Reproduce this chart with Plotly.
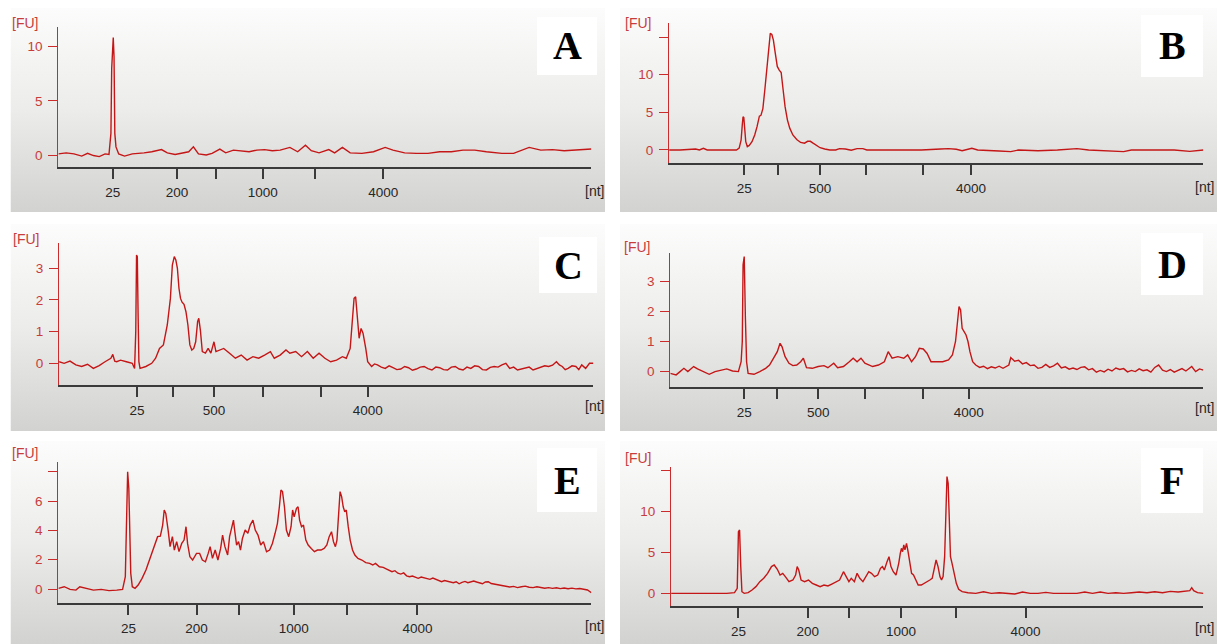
import base64
import plotly.graph_objects as go

W, H = 1219, 644

# ---------------- electropherogram data ----------------
# migration time (s) and fluorescence (FU) for each sample

time_a = [20.0, 20.8, 21.6, 22.4, 23.0, 23.6, 24.2, 24.8, 25.2, 25.4, 25.48, 25.56, 25.64, 25.72, 25.8, 25.92,
          26.2, 26.8, 27.6, 28.8, 29.6, 30.6, 31.2, 32.0, 32.8, 33.4, 33.88, 34.4, 35.2, 35.8, 36.6, 37.2,
          38.0, 38.8, 39.6, 40.4, 41.2, 42.0, 42.8, 43.8, 44.6, 45.4, 46.0, 46.8, 47.8, 48.4, 49.2, 50.0,
          51.2, 52.4, 53.6, 54.4, 55.6, 56.8, 58.0, 59.2, 60.4, 61.6, 62.8, 64.0, 65.6, 66.8, 68.4, 69.6,
          70.8, 72.0, 73.2, 74.8]
fu_a = [0.1, 0.2, 0.1, -0.1, 0.15, -0.05, -0.15, 0.1, 0.05, 2.0, 8.0, 9.2, 10.85, 9.1, 2.0, 0.75,
        0.1, -0.1, 0.1, 0.2, 0.3, 0.5, 0.2, 0.05, 0.2, 0.3, 0.75, 0.1, 0.0, 0.15, 0.55, 0.2,
        0.45, 0.4, 0.3, 0.45, 0.5, 0.4, 0.45, 0.7, 0.3, 0.9, 0.4, 0.2, 0.5, 0.2, 0.7, 0.2,
        0.15, 0.3, 0.7, 0.45, 0.2, 0.15, 0.15, 0.3, 0.3, 0.45, 0.45, 0.3, 0.15, 0.15, 0.7, 0.45,
        0.5, 0.4, 0.45, 0.55]

time_b = [20.08, 21.2, 22.8, 23.2, 23.6, 24.0, 25.2, 26.4, 27.0, 27.28, 27.48, 27.6, 27.68, 27.76, 27.84, 27.96,
          28.12, 28.32, 28.6, 28.88, 29.12, 29.36, 29.52, 29.72, 29.92, 30.12, 30.32, 30.48, 30.64, 30.8,
          31.0, 31.2, 31.4, 31.6, 31.8, 32.0, 32.24, 32.48, 32.8, 33.2, 33.6, 34.0, 34.32, 34.6, 34.88,
          35.2, 35.6, 36.08, 36.6, 37.2, 37.6, 38.2, 38.8, 39.4, 40.0, 40.4, 42.0, 44.0, 46.0, 48.0,
          48.8, 49.6, 50.2, 51.2, 51.8, 54.0, 55.2, 56.0, 58.0, 60.0, 62.0, 63.2, 64.8, 66.8, 67.6,
          70.0, 72.0, 73.6, 75.0]
fu_b = [0, 0, 0.13, 0, 0.22, 0, 0, -0.04, 0, 0.25, 1.3, 3.3, 4.4, 4.3, 2.9, 1.1,
        0.45, 0.6, 1.1, 2.0, 3.1, 4.5, 4.6, 5.5, 8.0, 11.1, 14.2, 15.5, 15.35, 14.6,
        12.8, 11.1, 10.6, 10.3, 8.0, 5.75, 4.0, 2.9, 2.0, 1.4, 1.0, 0.9, 1.15, 1.15, 0.9,
        0.6, 0.3, 0.13, 0, 0, 0.18, 0.13, -0.04, 0.18, 0.18, 0, 0, -0.1, 0, 0.13,
        0.18, 0.1, -0.1, 0.22, 0, -0.13, -0.22, 0, -0.1, 0, 0.18, 0, -0.13, -0.22, 0,
        0, 0, -0.18, 0]

time_c = [20.08, 20.6, 21.2, 21.8, 22.4, 23.0, 23.6, 24.2, 24.8, 25.4,
          25.6, 25.8, 26.0, 26.4, 27.0, 27.6, 27.84, 27.96, 28.04, 28.12,
          28.2, 28.28, 28.4, 29.0, 29.6, 30.0, 30.4, 30.8, 31.2, 31.52,
          31.72, 31.92, 32.08, 32.24, 32.4, 32.56, 32.72, 32.92, 33.12, 33.32,
          33.52, 33.72, 33.92, 34.12, 34.32, 34.44, 34.6, 34.8, 35.12, 35.4,
          35.68, 36.0, 36.2, 36.6, 37.0, 37.6, 38.2, 38.8, 39.4, 40.0,
          40.6, 41.2, 41.8, 42.2, 42.8, 43.4, 43.8, 44.4, 45.0, 45.6,
          46.2, 46.8, 47.4, 48.0, 48.6, 49.2, 49.6, 50.0, 50.2, 50.4,
          50.56, 50.72, 50.92, 51.12, 51.32, 51.6,
          51.8, 52.2, 52.5, 52.8, 53.2, 53.6, 54.0, 54.4, 54.8, 55.2,
          55.6, 56.0, 56.4, 56.8, 57.2, 57.6, 58.0, 58.4, 58.8, 59.2,
          59.6, 60.0, 60.4, 60.8, 61.2, 61.6, 62.0, 62.4, 62.8, 63.2,
          63.6, 64.0, 64.4, 64.8, 65.2, 65.6, 66.0, 66.4, 66.8, 67.2,
          67.6, 68.0, 68.4, 68.8, 69.2, 69.6, 70.0, 70.4, 70.8, 71.2,
          71.5, 71.8, 72.1, 72.4, 72.8, 73.2, 73.5, 73.8, 74.2, 74.6,
          75.0]
fu_c = [0.05, 0.0, 0.07, -0.05, -0.1, -0.03, -0.16, -0.07, 0.05, 0.16,
        0.28, 0.07, 0.05, 0.1, 0.05, 0.0, -0.16, 1.0, 3.42, 3.37,
        1.53, 0.05, -0.16, -0.1, 0.0, 0.16, 0.47, 0.58, 1.21, 2.05,
        3.1, 3.37, 3.26, 3.0, 2.37, 2.05, 1.93, 1.86, 1.63, 1.21,
        0.58, 0.42, 0.47, 0.68, 1.32, 1.42, 1.05, 0.37, 0.32, 0.47,
        0.32, 0.68, 0.37, 0.42, 0.47, 0.32, 0.16, 0.26, 0.1, 0.21,
        0.16, 0.26, 0.37, 0.16, 0.26, 0.42, 0.32, 0.37, 0.21, 0.37,
        0.16, 0.32, 0.16, 0.05, 0.1, 0.21, 0.16, 0.47, 1.32, 2.05,
        2.1, 1.53, 0.79, 1.1, 0.95, 0.47,
        0.05, -0.1, -0.02, -0.05, -0.12, -0.16, -0.08, -0.14, -0.2, -0.18,
        -0.1, -0.14, -0.22, -0.18, -0.12, -0.1, -0.17, -0.21, -0.12, -0.14,
        -0.2, -0.21, -0.12, -0.1, -0.18, -0.21, -0.12, -0.16, -0.08, -0.1,
        -0.2, -0.21, -0.13, -0.1, -0.12, -0.05, 0.0, -0.16, -0.12, -0.21,
        -0.18, -0.16, -0.12, -0.21, -0.17, -0.14, -0.08, -0.1, -0.06, 0.05,
        -0.05, -0.1, -0.2, -0.16, -0.08, -0.1, -0.2, -0.05, -0.16, 0.0,
        0.0]

time_d = [20.2, 20.8, 21.2, 21.6, 22.0, 22.6, 23.0, 23.6, 24.2, 24.8,
          25.4, 26.0, 26.6, 27.2, 27.48, 27.6, 27.68, 27.8, 27.92, 28.04,
          28.2, 28.8, 29.4, 30.0, 30.4, 30.8, 31.2, 31.48, 31.68, 32.0,
          32.4, 32.8, 33.2, 33.6, 33.88, 34.2, 34.8, 35.4, 36.0, 36.4,
          37.0, 37.4, 38.0, 38.6, 39.0, 39.4, 39.8, 40.2, 40.6, 41.0,
          41.6, 42.2, 42.6, 43.0, 43.6, 44.2, 44.6, 45.0, 45.4, 45.8,
          46.2, 46.6, 47.0, 47.6, 48.2, 48.8, 49.2, 49.52, 49.72, 49.88,
          50.04, 50.2, 50.4, 50.6, 50.8, 51.0, 51.28, 51.6,
          52.0, 52.4, 52.8, 53.2, 53.6, 54.0, 54.4, 54.8, 55.0, 55.2,
          55.4, 55.6, 56.0, 56.4, 56.8, 57.2, 57.6, 58.0, 58.4, 58.8,
          59.2, 59.6, 60.0, 60.4, 60.8, 61.2, 61.6, 62.0, 62.4, 62.8,
          63.2, 63.6, 64.0, 64.4, 64.8, 65.2, 65.6, 66.0, 66.4, 66.8,
          67.2, 67.6, 68.0, 68.4, 68.8, 69.2, 69.6, 70.0, 70.4, 70.8,
          71.2, 71.6, 72.0, 72.4, 72.8, 73.2, 73.6, 73.8, 74.2, 74.6,
          75.0]
fu_d = [-0.08, -0.13, -0.02, 0.09, -0.02, 0.15, 0.07, -0.02, -0.11, -0.02,
        0.03, 0.07, 0.0, -0.02, 0.31, 0.99, 3.56, 3.84, 1.77, 0.31,
        -0.08, -0.11, -0.02, 0.09, 0.2, 0.43, 0.65, 0.93, 0.82, 0.48,
        0.26, 0.18, 0.2, 0.31, 0.43, 0.11, 0.09, 0.15, 0.18, 0.11,
        0.26, 0.11, 0.15, 0.31, 0.43, 0.31, 0.43, 0.26, 0.2, 0.15,
        0.2, 0.31, 0.65, 0.43, 0.48, 0.43, 0.54, 0.31, 0.48, 0.76,
        0.74, 0.59, 0.31, 0.31, 0.31, 0.37, 0.54, 0.99, 1.71, 2.16,
        2.05, 1.43, 1.32, 1.21, 0.99, 0.65, 0.31, 0.2,
        0.12, 0.16, 0.08, 0.14, 0.1, 0.16, 0.09, 0.15, 0.2, 0.45,
        0.4, 0.33, 0.36, 0.24, 0.28, 0.18, 0.2, 0.09, 0.12, 0.22,
        0.12, 0.17, 0.26, 0.1, 0.14, 0.06, 0.1, 0.05, 0.12, 0.14,
        0.04, 0.08, -0.04, 0.02, -0.03, 0.06, 0.0, 0.1, 0.05, 0.08,
        -0.03, 0.02, -0.02, 0.07, 0.01, 0.04, -0.04, 0.12, 0.2, 0.03,
        -0.02, 0.05, -0.04, 0.02, 0.08, 0.0, 0.1, 0.15, -0.02, 0.07,
        0.03]

time_e = [20.0, 20.6, 21.2, 21.8, 22.2, 22.8, 23.6, 24.4, 25.2, 26.0,
          26.6, 26.88, 27.0, 27.12, 27.24, 27.32, 27.44, 27.6, 27.88, 28.2,
          28.6, 29.0, 29.4, 29.8, 30.2, 30.48, 30.72, 30.88, 31.04, 31.28,
          31.48, 31.72, 31.92, 32.16, 32.4, 32.68, 32.92, 33.12, 33.28, 33.52,
          33.8, 34.2, 34.52, 34.8, 35.12, 35.4, 35.6, 35.84, 36.12, 36.4,
          36.68, 36.88, 37.12, 37.4, 37.6, 37.8, 38.0, 38.12, 38.32, 38.52,
          38.72, 38.92, 39.2, 39.48, 39.72, 40.0, 40.24, 40.52, 40.8, 41.08,
          41.4, 41.72, 42.0, 42.28, 42.52, 42.72, 42.88, 43.04, 43.24, 43.44,
          43.68, 43.92, 44.08, 44.24, 44.48, 44.64, 44.8, 45.0, 45.2, 45.44,
          45.68, 46.0, 46.32, 46.64, 47.0, 47.32, 47.6, 47.84, 48.08, 48.28,
          48.48, 48.64, 48.8, 48.96, 49.12, 49.28, 49.44, 49.6, 49.8, 50.0,
          50.24, 50.48, 50.8, 51.2, 51.6, 52.0, 52.32, 52.6,
          53.0, 53.4, 53.7, 54.0, 54.3, 54.6, 54.9, 55.2, 55.5, 55.8,
          56.1, 56.4, 56.7, 57.0, 57.3, 57.6, 57.9, 58.2, 58.5, 58.8,
          59.1, 59.4, 59.7, 60.0, 60.3, 60.6, 60.9, 61.2, 61.5, 61.8,
          62.1, 62.4, 62.7, 63.0, 63.3, 63.6, 63.9, 64.2, 64.5, 64.8,
          65.1, 65.4, 65.7, 66.0, 66.4, 66.8, 67.2, 67.6, 68.0, 68.4,
          68.8, 69.2, 69.6, 70.0, 70.4, 70.8, 71.2, 71.6, 72.0, 72.4,
          72.8, 73.2, 73.6, 74.0, 74.4, 74.8]
fu_e = [0.05, 0.16, -0.02, -0.07, 0.16, 0.05, -0.07, -0.02, -0.11, -0.07,
        -0.02, 0.84, 4.93, 8.0, 6.86, 4.02, 1.07, 0.16, 0.05, 0.27,
        0.73, 1.3, 2.09, 2.89, 3.57, 3.61, 4.36, 5.39, 5.16, 4.02,
        2.89, 3.57, 2.66, 3.23, 2.55, 3.11, 3.34, 4.25, 3.11, 2.2,
        1.98, 2.43, 2.43, 1.98, 1.86, 2.43, 2.89, 2.09, 2.66, 1.98,
        2.77, 3.68, 2.89, 2.32, 3.57, 4.14, 4.7, 4.02, 3.0, 3.23,
        2.66, 3.45, 4.02, 3.8, 4.36, 4.7, 4.02, 3.68, 3.0, 3.23,
        2.55, 2.66, 3.11, 3.8, 4.48, 5.61, 6.75, 6.64, 5.61, 4.02,
        3.57, 4.25, 5.39, 4.93, 5.5, 5.61, 4.7, 4.25, 4.36, 3.34,
        3.0, 2.77, 2.55, 2.66, 2.66, 2.77, 3.0, 3.57, 3.91, 3.23,
        2.89, 3.34, 5.39, 6.64, 6.3, 5.61, 5.27, 5.39, 4.25, 3.34,
        2.66, 2.32, 2.09, 1.98, 1.8, 1.75, 1.64, 1.75,
        1.52, 1.48, 1.38, 1.3, 1.18, 1.25, 1.08, 1.02, 1.1, 0.9,
        0.84, 0.89, 0.8, 0.73, 0.82, 0.78, 0.7, 0.66, 0.75, 0.68,
        0.6, 0.5, 0.58, 0.52, 0.45, 0.43, 0.5, 0.36, 0.45, 0.52,
        0.43, 0.47, 0.55, 0.48, 0.42, 0.36, 0.48, 0.5, 0.38, 0.34,
        0.3, 0.25, 0.22, 0.18, 0.14, 0.18, 0.1, 0.16, 0.2, 0.12,
        0.1, 0.16, 0.12, 0.06, 0.1, 0.05, 0.09, 0.03, 0.07, 0.02,
        0.06, 0.01, 0.04, -0.02, -0.06, -0.25]

time_f = [20.28, 21.2, 22.8, 24.4, 26.0, 26.8, 27.08, 27.2, 27.32, 27.44,
          27.56, 27.8, 28.2, 28.6, 29.0, 29.4, 29.8, 30.2, 30.6, 30.88,
          31.2, 31.48, 31.76, 32.08, 32.4, 32.8, 33.08, 33.24, 33.4, 33.64,
          34.0, 34.4, 34.8, 35.2, 35.6, 36.0, 36.4, 36.8, 37.2, 37.6,
          38.0, 38.28, 38.56, 38.8, 39.12, 39.4, 39.68, 40.0, 40.28, 40.6,
          40.88, 41.2, 41.52, 41.8, 42.0, 42.2, 42.48, 42.68, 42.88, 43.12,
          43.4, 43.68, 43.84, 43.96, 44.08, 44.2, 44.32, 44.48, 44.64, 44.8,
          45.0, 45.2, 45.44, 45.68, 46.0, 46.32, 46.6, 46.88, 47.12, 47.32,
          47.52, 47.72, 47.92, 48.08, 48.24, 48.4, 48.52, 48.64, 48.76, 48.88,
          49.0, 49.16, 49.36, 49.6, 49.84, 50.2, 50.8, 51.6, 52.4, 53.2,
          54.0, 54.8, 55.6, 56.4, 57.2, 58.0, 58.8, 59.6, 60.4, 61.2,
          62.0, 62.8, 63.6, 64.4, 65.2, 66.0, 66.8, 67.6, 68.4, 69.2,
          70.0, 70.8, 71.6, 72.4, 73.2, 73.6, 73.8, 74.0, 74.4, 75.0]
fu_f = [0.0, 0.0, -0.08, 0.0, 0.0, 0.08, 0.61, 7.55, 7.76, 3.27,
        0.2, 0.0, 0.08, 0.41, 0.82, 1.43, 1.84, 2.45, 3.27, 3.47,
        2.94, 2.24, 2.45, 1.96, 1.43, 1.63, 2.24, 3.27, 2.86, 1.63,
        1.43, 1.63, 1.22, 1.02, 0.82, 1.02, 0.9, 1.14, 1.43, 1.63,
        2.65, 2.04, 1.43, 1.84, 1.43, 2.45, 1.84, 1.43, 2.04, 2.65,
        2.45, 2.04, 2.24, 3.06, 3.27, 2.86, 3.88, 4.49, 3.27, 2.65,
        2.24, 3.67, 4.9, 5.51, 5.1, 5.92, 5.31, 6.12, 5.1, 3.88,
        2.45, 2.24, 1.63, 1.02, 1.02, 1.22, 1.43, 1.63, 1.84, 2.86,
        4.08, 3.27, 2.04, 1.63, 2.04, 4.49, 9.39, 14.29, 13.47, 8.16,
        4.49, 3.67, 2.45, 1.22, 0.49, 0.2, 0.08, 0.0, 0.2, 0.0,
        0.08, 0.0, -0.08, 0.16, 0.0, 0.0, 0.12, 0.0, 0.0, 0.08,
        0.0, 0.16, 0.0, 0.16, 0.0, 0.08, 0.0, 0.08, 0.16, 0.08,
        0.2, 0.08, 0.24, 0.16, 0.24, 0.33, 0.69, 0.33, 0.08, 0.0]

# ladder peaks (migration time, s) and their size labels (nt)
ladder_a = [25.6, 32.2, 36.2, 41.0, 46.4, 53.4]
ladder_b = [27.8, 31.28, 35.6, 40.28, 46.2, 51.12]
ladder_c = [28.08, 31.8, 36.0, 41.0, 47.0, 51.8]
ladder_d = [27.8, 31.2, 35.4, 40.2, 46.2, 50.88]
ladder_e = [27.2, 34.2, 38.6, 44.2, 49.72, 56.92]
ladder_f = [27.2, 34.32, 38.6, 43.92, 49.6, 56.72]
ladder_text_1 = ["25", "200", "", "1000", "", "4000"]
ladder_text_2 = ["25", "", "500", "", "", "4000"]

# fluorescence axis ticks
fu_ticks_a = [0, 5, 10]
fu_ticks_b = [0, 5, 10, 15]
fu_ticks_c = [0, 1, 2, 3]
fu_ticks_d = [0, 1, 2, 3, 4]
fu_ticks_e = [0, 2, 4, 6, 8]
fu_ticks_f = [0, 5, 10, 15]
fu_text_a = ["0", "5", "10"]
fu_text_b = ["0", "5", "10", ""]
fu_text_c = ["0", "1", "2", "3"]
fu_text_d = ["0", "1", "2", "3", ""]
fu_text_e = ["0", "2", "4", "6", ""]
fu_text_f = ["0", "5", "10", ""]

samples = [
    ("A", time_a, fu_a, ladder_a, ladder_text_1, fu_ticks_a, fu_text_a),
    ("B", time_b, fu_b, ladder_b, ladder_text_2, fu_ticks_b, fu_text_b),
    ("C", time_c, fu_c, ladder_c, ladder_text_2, fu_ticks_c, fu_text_c),
    ("D", time_d, fu_d, ladder_d, ladder_text_2, fu_ticks_d, fu_text_d),
    ("E", time_e, fu_e, ladder_e, ladder_text_1, fu_ticks_e, fu_text_e),
    ("F", time_f, fu_f, ladder_f, ladder_text_1, fu_ticks_f, fu_text_f),
]

# ---------------- page geometry (pixels) ----------------
GEOM = {
    "A": dict(plot=(58.4, 26.7, 591.4, 166.7), xr=(20.0, 74.8), yr=(-1.08, 11.85),
              card=(10.5, 8, 605, 212), box=(537, 17, 597, 75), fu=(25.5, 23.3), nt=(606, 191.0)),
    "B": dict(plot=(669.1, 23.3, 1203.4, 163.3), xr=(20.08, 75.0), yr=(-1.77, 16.83),
              card=(620, 8, 1217, 212), box=(1141, 15, 1203, 77), fu=(637.5, 23.3), nt=(1216, 187.0)),
    "C": dict(plot=(59.1, 243.3, 593.4, 385.0), xr=(20.08, 75.0), yr=(-0.685, 3.79),
              card=(10.5, 224, 605, 431), box=(539, 237, 597, 293), fu=(26, 239), nt=(606, 406.0)),
    "D": dict(plot=(670.3, 253.3, 1203.4, 386.7), xr=(20.2, 75.0), yr=(-0.527, 3.95),
              card=(620, 224, 1217, 431), box=(1141, 233, 1203, 295), fu=(637, 246.7), nt=(1216, 408.0)),
    "E": dict(plot=(58.4, 461.7, 591.4, 602.7), xr=(20.0, 74.8), yr=(-0.93, 8.68),
              card=(10.5, 441, 605, 644), box=(537, 448, 597, 512), fu=(25.5, 453), nt=(606, 626.0)),
    "F": dict(plot=(671.1, 466.7, 1203.4, 606.0), xr=(20.28, 75.0), yr=(-1.55, 15.5),
              card=(620, 441, 1217, 644), box=(1141, 448, 1203, 513), fu=(638, 458), nt=(1216, 628.0)),
}

TRACE_RED = "#c41616"
AXIS_RED = "#cc2b2b"
LABEL_RED = "#c83c3c"
DARK = "#3a3a3a"
TEXT_DARK = "#262626"
TICK_FONT = "Liberation Sans"


def px(x):
    return x / W


def py(y):
    return 1 - y / H


# vertical grey gradient used behind each electropherogram
svg = ('<svg xmlns="http://www.w3.org/2000/svg" width="10" height="100" viewBox="0 0 10 100" '
       'preserveAspectRatio="none"><defs><linearGradient id="g" x1="0" y1="0" x2="0" y2="1">'
       '<stop offset="0" stop-color="#fcfcfc"/><stop offset="0.5" stop-color="#ececea"/>'
       '<stop offset="1" stop-color="#d2d2d0"/></linearGradient></defs>'
       '<rect width="10" height="100" fill="url(#g)"/></svg>')
bg_src = "data:image/svg+xml;base64," + base64.b64encode(svg.encode()).decode()

fig = go.Figure()
layout = dict(
    width=W, height=H, margin=dict(l=0, r=0, t=0, b=0),
    paper_bgcolor="white", plot_bgcolor="rgba(0,0,0,0)",
    showlegend=False, images=[], shapes=[], annotations=[],
)

for i, (name, t, fu, ladder, ladder_text, yt, ytext) in enumerate(samples, start=1):
    g = GEOM[name]
    x0, y0, x1, y1 = g["plot"]
    xa = "xaxis" if i == 1 else f"xaxis{i}"
    ya = "yaxis" if i == 1 else f"yaxis{i}"
    xref = "x" if i == 1 else f"x{i}"
    yref = "y" if i == 1 else f"y{i}"

    fig.add_trace(go.Scatter(
        x=t, y=fu, mode="lines", xaxis=xref, yaxis=yref,
        line=dict(color=TRACE_RED, width=1.4), name=name,
        hovertemplate="%{y:.2f} FU<extra>" + name + "</extra>",
    ))

    layout[xa] = dict(
        domain=[px(x0), px(x1)], range=list(g["xr"]), anchor=yref,
        showgrid=False, zeroline=False, showline=True, linecolor=DARK, linewidth=1.6,
        ticks="outside", ticklen=10, tickwidth=1.6, tickcolor=DARK,
        tickmode="array", tickvals=ladder, ticktext=ladder_text,
        tickfont=dict(family=TICK_FONT, size=13.5, color=TEXT_DARK),
        ticklabelstandoff=2, fixedrange=True,
    )
    layout[ya] = dict(
        domain=[py(y1), py(y0)], range=list(g["yr"]), anchor=xref,
        showgrid=False, zeroline=False, showline=True, linecolor=AXIS_RED, linewidth=1.3,
        ticks="outside", ticklen=9, tickwidth=1.3, tickcolor=AXIS_RED,
        tickmode="array", tickvals=yt, ticktext=ytext,
        tickfont=dict(family=TICK_FONT, size=13.5, color=LABEL_RED),
        ticklabelstandoff=3, fixedrange=True,
    )

    cl, ct, cr, cb = g["card"]
    layout["images"].append(dict(
        source=bg_src, xref="paper", yref="paper", x=px(cl), y=py(ct),
        sizex=(cr - cl) / W, sizey=(cb - ct) / H, xanchor="left", yanchor="top",
        sizing="stretch", layer="below",
    ))

    bl, bt, br, bb = g["box"]
    layout["shapes"].append(dict(
        type="rect", xref="paper", yref="paper", x0=px(bl), x1=px(br), y0=py(bb), y1=py(bt),
        fillcolor="white", line=dict(width=0), layer="above",
    ))
    layout["annotations"].append(dict(
        text="<b>" + name + "</b>", xref="paper", yref="paper",
        x=px((bl + br) / 2), y=py((bt + bb) / 2), xanchor="center", yanchor="middle",
        showarrow=False, font=dict(family="Liberation Serif", size=40, color="black"),
    ))

    fx, fy = g["fu"]
    layout["annotations"].append(dict(
        text="[FU]", xref="paper", yref="paper", x=px(fx), y=py(fy),
        xanchor="center", yanchor="middle", showarrow=False,
        font=dict(family=TICK_FONT, size=14, color=LABEL_RED),
    ))
    nx, ny = g["nt"]
    layout["annotations"].append(dict(
        text="[nt]", xref="paper", yref="paper", x=px(nx), y=py(ny),
        xanchor="right", yanchor="middle", showarrow=False,
        font=dict(family=TICK_FONT, size=14, color=TEXT_DARK),
    ))

fig.update_layout(**layout)
fig.write_html("out.html")
